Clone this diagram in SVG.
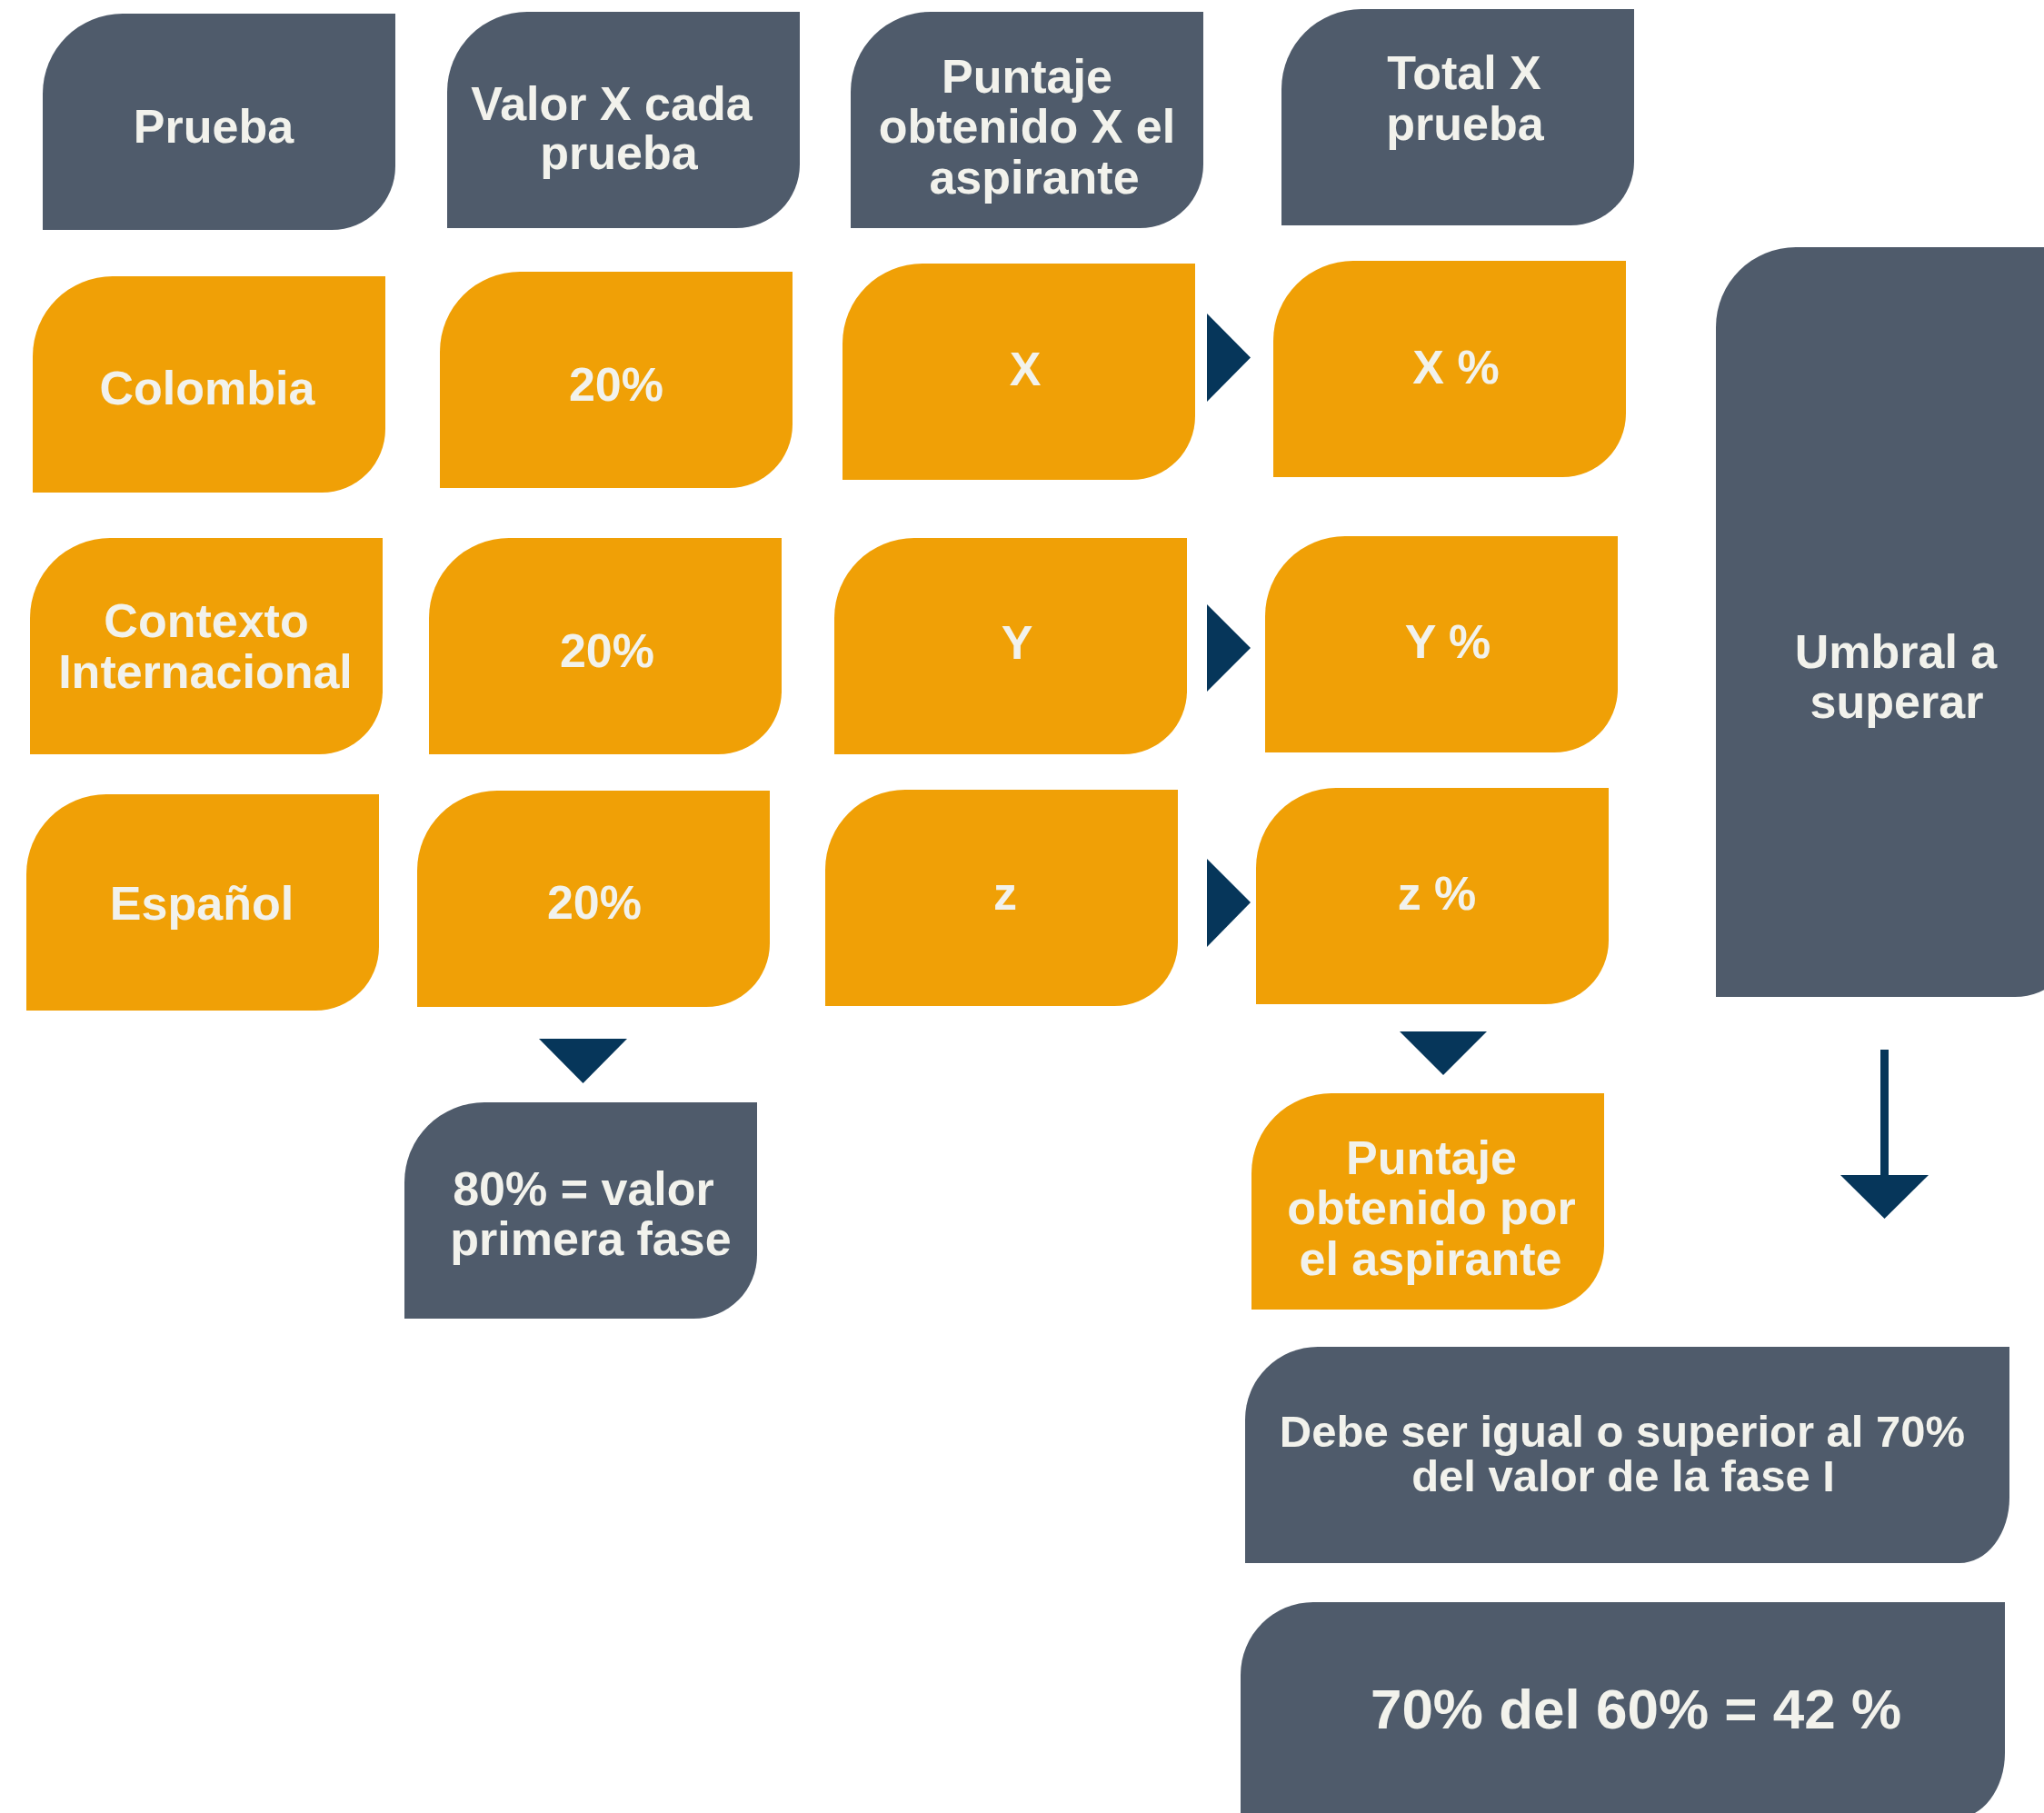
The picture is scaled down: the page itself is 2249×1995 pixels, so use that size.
<svg xmlns="http://www.w3.org/2000/svg" xmlns:xlink="http://www.w3.org/1999/xlink" width="2249" height="1995" viewBox="0 0 2249 1995">
<style>
.dark{fill:#4F5B6B}
.orange{fill:#F0A006}
.arrow{fill:#06365A}
.t{font-family:"Liberation Sans",Arial,sans-serif;font-weight:bold;font-size:52px;fill:#F2F2EC;text-anchor:middle}
.t49{font-size:49px}
.t62{font-size:62px}
</style>
<defs>
<path id="box" d="M0,88 A88,88 0 0 1 88,0 H388 V168 A70,70 0 0 1 318,238 H0 Z"/>
<path id="wide" d="M0,80 A80,80 0 0 1 80,0 H841 V166 A55,72 0 0 1 786,238 H0 Z"/>
</defs>
<rect width="2249" height="1995" fill="#FFFFFF"/>

<g id="h-prueba"><use xlink:href="#box" href="#box" x="47" y="15" class="dark"/><text class="t" x="235" y="157">Prueba</text></g>
<g id="h-valor"><use xlink:href="#box" href="#box" x="492" y="13" class="dark"/><text class="t" x="673" y="132">Valor X cada</text><text class="t" x="681" y="186">prueba</text></g>
<g id="h-puntaje"><use xlink:href="#box" href="#box" x="936" y="13" class="dark"/><text class="t" x="1130" y="102">Puntaje</text><text class="t" x="1130" y="157">obtenido X el</text><text class="t" x="1138" y="213">aspirante</text></g>
<g id="h-total"><use xlink:href="#box" href="#box" x="1410" y="10" class="dark"/><text class="t" x="1611" y="98">Total X</text><text class="t" x="1612" y="154">prueba</text></g>

<g id="colombia"><use xlink:href="#box" href="#box" x="36" y="304" class="orange"/><text class="t" x="228" y="445">Colombia</text></g>
<g id="valor1"><use xlink:href="#box" href="#box" x="484" y="299" class="orange"/><text class="t" x="678" y="441">20%</text></g>
<g id="puntaje1"><use xlink:href="#box" href="#box" x="927" y="290" class="orange"/><text class="t" x="1128" y="424">X</text></g>
<g id="total1"><use xlink:href="#box" href="#box" x="1401" y="287" class="orange"/><text class="t" x="1602" y="422">X %</text></g>

<g id="contexto"><use xlink:href="#box" href="#box" x="33" y="592" class="orange"/><text class="t" x="227" y="701">Contexto</text><text class="t" x="226" y="757">Internacional</text></g>
<g id="valor2"><use xlink:href="#box" href="#box" x="472" y="592" class="orange"/><text class="t" x="668" y="734">20%</text></g>
<g id="puntaje2"><use xlink:href="#box" href="#box" x="918" y="592" class="orange"/><text class="t" x="1119" y="725">Y</text></g>
<g id="total2"><use xlink:href="#box" href="#box" x="1392" y="590" class="orange"/><text class="t" x="1593" y="724">Y %</text></g>

<g id="espanol"><use xlink:href="#box" href="#box" x="29" y="874" class="orange"/><text class="t" x="222" y="1012">Español</text></g>
<g id="valor3"><use xlink:href="#box" href="#box" x="459" y="870" class="orange"/><text class="t" x="654" y="1011">20%</text></g>
<g id="puntaje3"><use xlink:href="#box" href="#box" x="908" y="869" class="orange"/><text class="t" x="1106" y="1001">z</text></g>
<g id="total3"><use xlink:href="#box" href="#box" x="1382" y="867" class="orange"/><text class="t" x="1581" y="1001">z %</text></g>

<g id="umbral"><path class="dark" d="M1888,360 A88,88 0 0 1 1976,272 H2287 V1027 A70,70 0 0 1 2217,1097 H1888 Z"/><text class="t" x="2086" y="735">Umbral a</text><text class="t" x="2087" y="790">superar</text></g>

<g id="primera-fase"><use xlink:href="#box" href="#box" x="445" y="1213" class="dark"/><text class="t" x="642" y="1326">80% = valor</text><text class="t" x="650" y="1381">primera fase</text></g>
<g id="puntaje-aspirante"><use xlink:href="#box" href="#box" x="1377" y="1203" class="orange"/><text class="t" x="1575" y="1292">Puntaje</text><text class="t" x="1575" y="1347">obtenido por</text><text class="t" x="1574" y="1403">el aspirante</text></g>

<g id="debe"><use xlink:href="#wide" href="#wide" x="1370" y="1482" class="dark"/><text class="t t49" x="1785" y="1592">Debe ser igual o superior al 70%</text><text class="t t49" x="1786" y="1641">del valor de la fase I</text></g>
<g id="calculo"><use xlink:href="#wide" href="#wide" x="1365" y="1763" class="dark"/><text class="t t62" x="1800" y="1902">70% del 60% = 42 %</text></g>

<g id="connectors">
<polygon class="arrow" points="1328,345 1376,393.5 1328,442"/>
<polygon class="arrow" points="1328,665 1376,713 1328,761"/>
<polygon class="arrow" points="1328,945 1376,993 1328,1042"/>
<polygon class="arrow" points="593,1143 690,1143 641.5,1192"/>
<polygon class="arrow" points="1540,1135 1636,1135 1588,1183"/>
<rect class="arrow" x="2069" y="1155" width="9" height="140"/>
<polygon class="arrow" points="2025,1293 2122,1293 2073.5,1341"/>
</g>
</svg>
